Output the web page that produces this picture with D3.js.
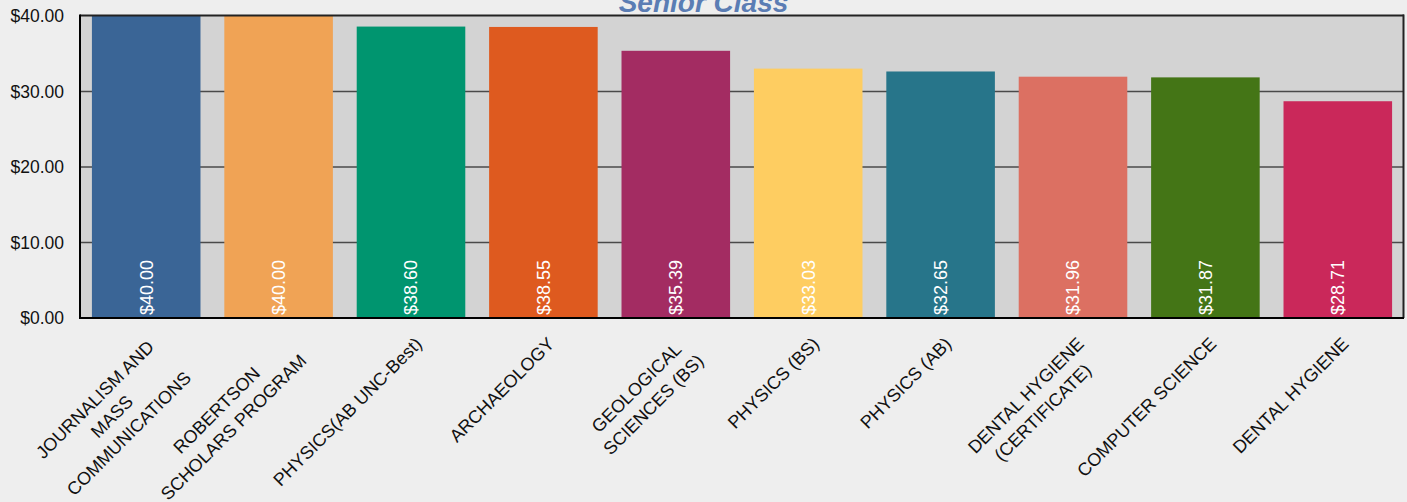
<!DOCTYPE html>
<html lang="en">
<head>
<meta charset="utf-8">
<script src="https://d3js.org/d3.v7.min.js"></script>
<style>
  body { margin: 0; background: #eeeeee; }
  text { font-family: "Liberation Sans", Arial, sans-serif; }
</style>
</head>
<body>
<script>

// chart data
var categories = [
  "JOURNALISM AND MASS COMMUNICATIONS",
  "ROBERTSON SCHOLARS PROGRAM",
  "PHYSICS(AB UNC-Best)",
  "ARCHAEOLOGY",
  "GEOLOGICAL SCIENCES (BS)",
  "PHYSICS (BS)",
  "PHYSICS (AB)",
  "DENTAL HYGIENE (CERTIFICATE)",
  "COMPUTER SCIENCE",
  "DENTAL HYGIENE"
];
var labelLines = [
  ["JOURNALISM AND", "MASS", "COMMUNICATIONS"],
  ["ROBERTSON", "SCHOLARS PROGRAM"],
  ["PHYSICS(AB UNC-Best)"],
  ["ARCHAEOLOGY"],
  ["GEOLOGICAL", "SCIENCES (BS)"],
  ["PHYSICS (BS)"],
  ["PHYSICS (AB)"],
  ["DENTAL HYGIENE", "(CERTIFICATE)"],
  ["COMPUTER SCIENCE"],
  ["DENTAL HYGIENE"]
];
var values = [40.00, 40.00, 38.60, 38.55, 35.39, 33.03, 32.65, 31.96, 31.87, 28.71];
var colors = ["#3a6596", "#f0a355", "#00956f", "#de5a1f", "#a32c62",
              "#fecd61", "#27758a", "#dc7062", "#447516", "#ca285a"];
var yTicks = [0, 10, 20, 30, 40];
var title = "Senior Class";

var width = 1407,
    height = 502;
var plotLeft = 80, plotRight = 1404, plotTop = 16, plotBottom = 318;

var fmt = function(v) { return "$" + d3.format(".2f")(v); };

var x = d3.scaleBand()
    .domain(categories)
    .range([plotLeft, plotRight])
    .paddingInner(0.18)
    .paddingOuter(0.09);

var y = d3.scaleLinear()
    .domain([0, 40])
    .range([plotBottom, plotTop]);

var svg = d3.select("body").append("svg")
    .attr("width", width)
    .attr("height", height);

svg.append("rect")
    .attr("width", width)
    .attr("height", height)
    .attr("fill", "#eeeeee");

// plot background
svg.append("rect")
    .attr("x", plotLeft)
    .attr("y", plotTop)
    .attr("width", plotRight - plotLeft)
    .attr("height", plotBottom - plotTop)
    .attr("fill", "#d3d3d3");

// gridlines
svg.append("g")
  .selectAll("line")
    .data(yTicks.filter(function(d) { return d > 0 && d < 40; }))
  .enter().append("line")
    .attr("x1", plotLeft)
    .attr("x2", plotRight)
    .attr("y1", function(d) { return y(d); })
    .attr("y2", function(d) { return y(d); })
    .attr("stroke", "#4a4a4a")
    .attr("stroke-width", 1.5);

// bars
svg.append("g")
  .selectAll("rect")
    .data(values)
  .enter().append("rect")
    .attr("x", function(d, i) { return x(categories[i]); })
    .attr("y", function(d) { return y(d); })
    .attr("width", x.bandwidth())
    .attr("height", function(d) { return y(0) - y(d); })
    .attr("fill", function(d, i) { return colors[i]; });

// frame
svg.append("line")
    .attr("x1", plotLeft).attr("x2", plotRight)
    .attr("y1", plotTop - 0.5).attr("y2", plotTop - 0.5)
    .attr("stroke", "#222").attr("stroke-width", 2);
svg.append("line")
    .attr("x1", plotRight - 0.5).attr("x2", plotRight - 0.5)
    .attr("y1", plotTop - 1.5).attr("y2", plotBottom)
    .attr("stroke", "#222").attr("stroke-width", 2);
svg.append("line")
    .attr("x1", plotLeft).attr("x2", plotLeft)
    .attr("y1", plotTop - 1.5).attr("y2", plotBottom + 1)
    .attr("stroke", "#000").attr("stroke-width", 2);
svg.append("line")
    .attr("x1", plotLeft - 1).attr("x2", plotRight)
    .attr("y1", plotBottom).attr("y2", plotBottom)
    .attr("stroke", "#000").attr("stroke-width", 2);

// y tick labels
svg.append("g")
  .selectAll("text")
    .data(yTicks)
  .enter().append("text")
    .attr("x", 64)
    .attr("y", function(d) { return y(d); })
    .attr("dy", "0.35em")
    .attr("text-anchor", "end")
    .attr("font-size", "17.5px")
    .attr("fill", "#111")
    .text(fmt);

// value labels inside bars
svg.append("g")
  .selectAll("text")
    .data(values)
  .enter().append("text")
    .attr("transform", function(d, i) {
      return "translate(" + (x(categories[i]) + x.bandwidth() / 2) + "," + (plotBottom - 3) + ")rotate(-90)";
    })
    .attr("dy", "0.35em")
    .attr("font-size", "18px")
    .attr("fill", "#ffffff")
    .text(fmt);

// category labels, rotated
var cat = svg.append("g")
  .selectAll("g")
    .data(labelLines)
  .enter().append("g")
    .attr("transform", function(d, i) {
      return "translate(" + (x(categories[i]) + x.bandwidth() / 2 + 12) + ",345)rotate(-45)";
    });

cat.each(function(lines) {
  var g = d3.select(this);
  var texts = g.selectAll("text")
      .data(lines)
    .enter().append("text")
      .attr("y", function(d, j) { return j * 24; })
      .attr("text-anchor", "middle")
      .attr("font-size", "18px")
      .attr("fill", "#111")
      .text(function(d) { return d; });
  var w = 0;
  texts.each(function() { w = Math.max(w, this.getComputedTextLength()); });
  texts.attr("x", -w / 2);
});

// title (partly cut off at the top)
svg.append("text")
    .attr("x", width / 2)
    .attr("y", 12)
    .attr("text-anchor", "middle")
    .attr("font-size", "28px")
    .attr("font-weight", "bold")
    .attr("font-style", "italic")
    .attr("fill", "#5b7db4")
    .text(title);

</script>
</body>
</html>
